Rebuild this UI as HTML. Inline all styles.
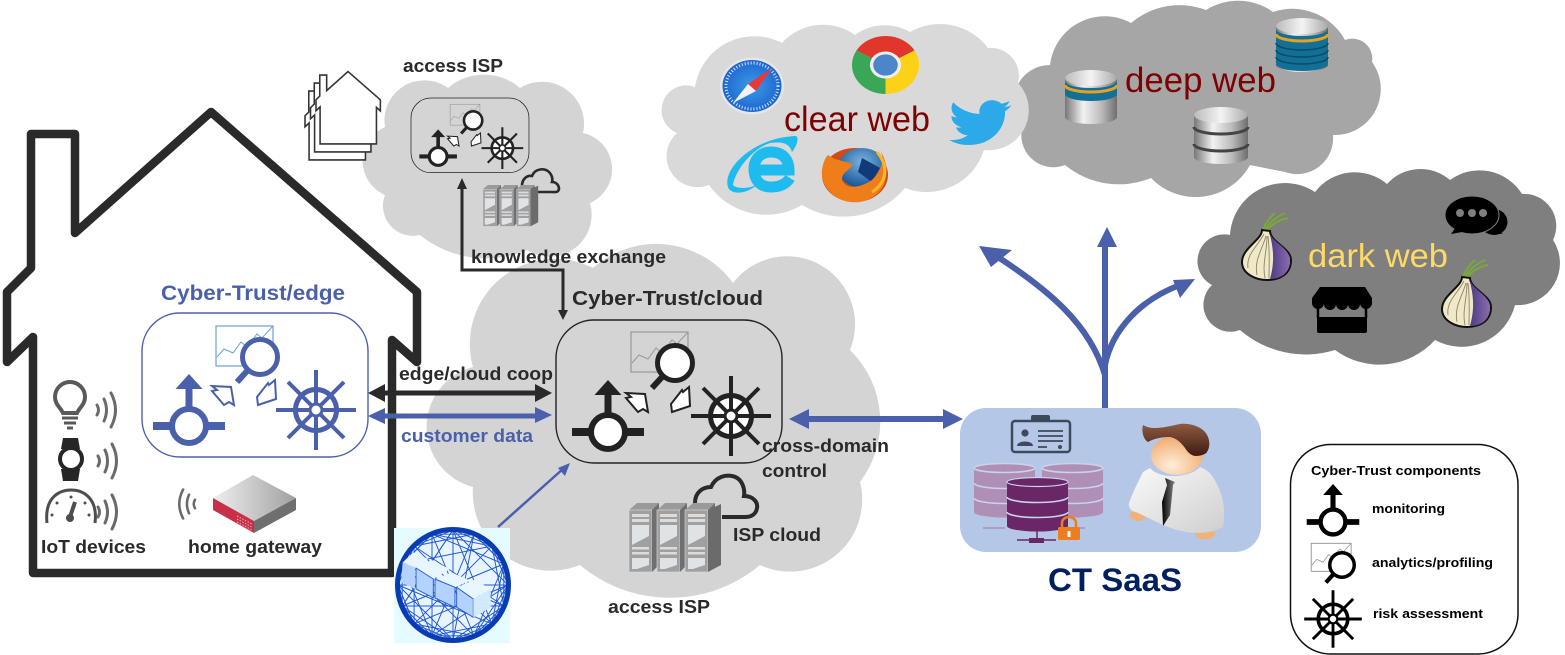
<!DOCTYPE html>
<html><head><meta charset="utf-8"><title>Cyber-Trust architecture</title>
<style>
html,body{margin:0;padding:0;background:#fff}
svg{display:block}
text{font-family:"Liberation Sans",sans-serif;font-weight:bold;fill:#2a2a2a}
text.n{font-weight:normal}
</style></head><body>
<svg width="1565" height="655" viewBox="0 0 1565 655" xmlns="http://www.w3.org/2000/svg">
<defs>
<linearGradient id="sil" x1="0" x2="1" y1="0" y2="0"><stop offset="0" stop-color="#777"/><stop offset=".35" stop-color="#f2f2f2"/><stop offset=".7" stop-color="#bbb"/><stop offset="1" stop-color="#6e6e6e"/></linearGradient>
<linearGradient id="silt" x1="0" x2="1" y1="0" y2="0"><stop offset="0" stop-color="#bbb"/><stop offset=".5" stop-color="#f4f4f4"/><stop offset="1" stop-color="#aaa"/></linearGradient>
<linearGradient id="gw" x1="0" x2="1" y1="0" y2="0"><stop offset="0" stop-color="#eee"/><stop offset=".5" stop-color="#c8c8c8"/><stop offset="1" stop-color="#a0a0a0"/></linearGradient>
<linearGradient id="coat" x1="0" x2="1" y1="0" y2="1"><stop offset="0" stop-color="#fafafa"/><stop offset="1" stop-color="#cfcfcf"/></linearGradient>
<linearGradient id="hair" x1="0" x2="0" y1="0" y2="1"><stop offset="0" stop-color="#8f5a42"/><stop offset="1" stop-color="#3e1c10"/></linearGradient>
<linearGradient id="tie" x1="0" x2="1" y1="0" y2="0"><stop offset="0" stop-color="#000"/><stop offset="1" stop-color="#888"/></linearGradient>
<radialGradient id="skin" cx=".4" cy=".75" r=".75"><stop offset="0" stop-color="#ffeeda"/><stop offset="1" stop-color="#eea868"/></radialGradient>
<radialGradient id="saf" cx=".5" cy=".5" r=".5"><stop offset="0" stop-color="#3a9ae8"/><stop offset="1" stop-color="#1f66d0"/></radialGradient>
<linearGradient id="pur" x1="0" x2="1" y1="0" y2="0"><stop offset="0" stop-color="#4b3a80"/><stop offset="1" stop-color="#8a6cb0"/></linearGradient>
<radialGradient id="glob" cx=".5" cy=".35" r=".6"><stop offset="0" stop-color="#7ab4e0"/><stop offset="1" stop-color="#1c5a9a"/></radialGradient>

<path id="house" d="M33,573 H392 V340 L417,362 V292 L211,112 L75,233 V134 H31 V268 L7,292 V362 L33,337 Z"/>

<g id="mon">
  <path d="M-36,0 H36" stroke="currentColor" stroke-width="8" fill="none"/>
  <path d="M0,-15 V-38" stroke="currentColor" stroke-width="7" fill="none"/>
  <path d="M-13.5,-37 L13.5,-37 L0,-52 Z" fill="currentColor"/>
  <circle r="17" fill="#fff" stroke="currentColor" stroke-width="6"/>
</g>
<g id="mag">
  <rect x="-44" y="-31" width="57" height="40" fill="var(--cf)" stroke="var(--ch)" stroke-width="1.2"/>
  <path d="M-43,0 L-36,-8 L-27,-4 L-19,-15 L-13,-10 L-3,-23 L2,-19 L13,-31" fill="none" stroke="var(--ch)" stroke-width="1"/>
  <path d="M-12,13 L-23,25" stroke="currentColor" stroke-width="6" fill="none"/>
  <circle r="17.5" fill="#fff" stroke="currentColor" stroke-width="5"/>
</g>
<g id="wheel">
  <circle r="20.5" fill="#fff" stroke="currentColor" stroke-width="5"/>
  <path d="M-40,0 H40 M0,-40 V40 M-28,-28 L28,28 M28,-28 L-28,28" stroke="currentColor" stroke-width="4" fill="none"/>
  <circle r="6" fill="#fff" stroke="currentColor" stroke-width="3"/>
</g>
<g id="arrs" fill="#fff" stroke="currentColor" stroke-width="2" stroke-linejoin="miter">
  <path d="M626,393 L645,394 L648,412 L643,409 L638,412 L626,398 L631,397 Z"/>
  <path d="M689,387 L690,406 L672,412 L671,404 L682,390 L683,392 Z"/>
</g>
<g id="ct">
  <rect x="556" y="320" width="226" height="143" rx="38" fill="none" stroke="currentColor" stroke-width="1.4"/>
  <use href="#mag" x="675" y="363"/>
  <use href="#mon" x="608" y="432"/>
  <use href="#wheel" x="731" y="416"/>
  <use href="#arrs"/>
</g>

<g id="rack">
  <path d="M0,7 L8,0 H30 L23,7 Z" fill="#9a9a9a"/>
  <rect x="0" y="7" width="23" height="62" fill="#a0a0a0" stroke="#dcdcdc" stroke-width=".6"/>
  <rect x="3" y="11" width="17" height="3" fill="#dcdcdc"/><rect x="3" y="16" width="17" height="3" fill="#dcdcdc"/>
  <path d="M3,22 H20 V33 L3,42 Z" fill="#dfe3e6"/>
  <rect x="3" y="44" width="17" height="2.5" fill="#dcdcdc"/><rect x="3" y="49" width="17" height="2.5" fill="#dcdcdc"/>
  <path d="M3,55 H20 V62 L8,66 H3 Z" fill="#dfe3e6"/>
  <path d="M23,7 L30,0 V62 L23,69 Z" fill="#6f6f6f"/>
</g>
<g id="servers">
  <use href="#rack" x="0"/><use href="#rack" x="28"/><use href="#rack" x="56"/>
  <path d="M79,7 L92,1 V62 L79,69 Z" fill="#6b6b6b"/>
</g>

<g id="w" fill="none" stroke="#6a6a6a" stroke-width="3" stroke-linecap="round">
  <path d="M0,-5 Q3,0 0,5"/><path d="M7,-11 Q12,0 7,11"/><path d="M14,-17 Q23,0 14,17"/>
</g>

<g id="onion">
  <path d="M22,3 C26,-4 34,-11 43,-15 M24,3 C29,-3 36,-8 46,-10 M21,3 C22,-3 27,-10 33,-15" fill="none" stroke="#7aa83a" stroke-width="2"/>
  <path d="M20,2 C20,12 0,20 0,34 C0,46 14,52 25,52 C38,52 49,46 49,32 C49,20 28,14 28,3 Z" fill="#efe9c8" stroke="#111" stroke-width="2"/>
  <path d="M27,3 C30,15 34,30 28,51 C38,51 48,46 48,32 C48,20 29,14 27,3 Z" fill="url(#pur)"/>
  <path d="M22,6 C16,18 4,26 6,40 M24,8 C20,22 12,32 15,47 M25,8 C25,24 20,36 23,50 M26,8 C28,24 27,38 27,50" fill="none" stroke="#8f8268" stroke-width=".9"/>
</g>
</defs>

<!-- clouds -->
<path fill="#a6a6a6" d="M1050,65 A55,55 0 0 1 1131,23 A75,75 0 0 1 1206,10 A60,60 0 0 1 1273,12 A60,60 0 0 1 1345,40 A20,20 0 0 1 1372,62 A46,46 0 0 1 1333,135 A36,36 0 0 1 1285,172 L1250,165 A62,62 0 0 1 1151,178 A85,85 0 0 1 1065,165 A32,32 0 0 1 1023,125 A36,36 0 0 1 1050,65 Z"/>
<path fill="#d9d9d9" d="M695,87 A60,60 0 0 1 782,43 A55,55 0 0 1 855,35 A50,50 0 0 1 910,32 A60,60 0 0 1 988,48 A28,28 0 0 1 1018,83 A40,40 0 0 1 984,150 A60,60 0 0 1 905,188 A80,80 0 0 1 802,205 A70,70 0 0 1 709,185 A31,31 0 0 1 677,133 A24.7,24.7 0 0 1 695,87 Z"/>
<path fill="#7f7f7f" d="M1212,285 A26.8,26.8 0 0 1 1230,235 A55,55 0 0 1 1315,192 A50,50 0 0 1 1387,184 A45,45 0 0 1 1450,180 A50,50 0 0 1 1522,194 A32,32 0 0 1 1553,240 A42,42 0 0 1 1515,305 A55,55 0 0 1 1435,340 A75,75 0 0 1 1335,350 A100,100 0 0 1 1240,330 A27,27 0 0 1 1212,285 Z"/>
<path fill="#d4d4d4" d="M473,367 A85,85 0 0 1 593,268 A95,95 0 0 1 733,283 A68,68 0 0 1 850,350 A100,100 0 0 1 860,482 A72,72 0 0 1 760,565 A140,140 0 0 1 580,565 A78,78 0 0 1 473,487 A62,62 0 0 1 473,367 Z"/>
<path fill="#d4d4d4" d="M385,127 A40,40 0 0 1 448,88 A55,55 0 0 1 520,88 A42,42 0 0 1 583,133 A37,37 0 0 1 590,203 A42,42 0 0 1 527,250 A105,105 0 0 1 420,235 A30,30 0 0 1 385,195 A37,37 0 0 1 385,127 Z"/>

<!-- mini houses -->
<g fill="#fff" stroke="#333" stroke-width="10" stroke-linejoin="miter">
  <use href="#house" transform="translate(303.9,70) scale(.157)"/>
  <use href="#house" transform="translate(309.4,62) scale(.157)"/>
  <use href="#house" transform="translate(314.9,54) scale(.157)"/>
</g>

<!-- main house -->
<use href="#house" fill="none" stroke="#2a2a2a" stroke-width="8.5" stroke-linejoin="round"/>

<!-- edge box -->
<g style="color:#4a60ab;--ch:#6aa0d8;--cf:#fff">
  <rect x="142" y="313" width="226" height="144" rx="38" fill="#fff" stroke="#4a60ab" stroke-width="1.4"/>
  <use href="#mag" x="260" y="357"/>
  <use href="#mon" x="189" y="426"/>
  <use href="#wheel" x="316" y="410"/>
  <use href="#arrs" transform="translate(-414,-7)"/>
</g>

<!-- cloud box -->
<g style="color:#222;--ch:#999;--cf:none"><use href="#ct"/></g>
<g style="color:#222;--ch:#999;--cf:none" transform="translate(411,98) scale(.522) translate(-556,-320)"><use href="#ct"/></g>

<!-- servers & cloud outlines -->
<path d="M695,503 C695,492 703,487 711,487 C716,476 726,475 732,476 C743,478 745,490 744,496 C754,496 758,503 757,508 C756,515 750,517 745,517 H722" fill="none" stroke="#2a2a2a" stroke-width="4"/>
<use href="#servers" transform="translate(629,503)"/>
<path d="M522,186 C522,179 527,175 532,176 C535,168 545,168 549,172 C552,175 553,179 552,182 C557,182 559,186 559,189 C558,193 555,192 552,192 H538" fill="none" stroke="#2a2a2a" stroke-width="2.6"/>
<use href="#servers" transform="translate(483,185) scale(.6)"/>

<!-- IoT icons -->
<g fill="none" stroke="#595959" stroke-width="4">
  <path d="M63,413 C60,407 55,404 55,397 A15,15 0 0 1 85,397 C85,404 80,407 77,413 Z"/>
  <path d="M62,418 H78 M64,423 H76 M67,428 H73" stroke-width="3"/>
</g>
<g fill="#262626">
  <path d="M63,438 H78 L80,449 H61 Z"/><path d="M61,469 H80 L78,481 H63 Z"/>
</g>
<circle cx="71" cy="459" r="11" fill="#fff" stroke="#262626" stroke-width="4"/>
<g fill="none" stroke="#4d4d4d">
  <path d="M47,523 C44,495 62,490 71,490 C85,490 98,500 95,523" stroke-width="3"/>
  <path d="M75,502 L70,517" stroke-width="4"/>
</g>
<circle cx="70" cy="518" r="4" fill="#4d4d4d"/>
<g fill="#4d4d4d"><circle cx="52" cy="515" r="1.5"/><circle cx="57" cy="503" r="1.5"/><circle cx="71" cy="497" r="1.5"/><circle cx="85" cy="503" r="1.5"/><circle cx="89" cy="515" r="1.5"/></g>
<use href="#w" x="97" y="410"/><use href="#w" x="98" y="461"/><use href="#w" x="98" y="512"/>
<use href="#w" transform="translate(195,504) scale(-.85,.85)"/>

<!-- gateway -->
<path d="M253,475 L296,498 L254,521 L213,498 Z" fill="url(#gw)"/>
<path d="M213,498 L254,521 V533 L213,510 Z" fill="#c8304a"/>
<path d="M254,521 L296,498 V510 L254,533 Z" fill="#6f6f6f"/>
<path d="M237,516 L252,524 M237,519 L252,527 M237,522 L252,530" stroke="#e8b0b8" stroke-width="1" stroke-dasharray="1.5 1.5"/>

<!-- mesh -->
<rect x="394" y="528" width="116" height="115" fill="#e6fbff"/>
<circle cx="453" cy="585" r="55" fill="#e8f4ff"/>
<g transform="translate(1,0)" fill="none" stroke="#2058d4" stroke-width=".95">
  <path d="M507,585 L473,635.8 L413.1,623.9 L397,585 L413.1,546.1 L473,534.2 L502.8,564 L490.9,623.9 L431,635.8 L401.2,564 L431,534.2 L490.9,546.1 L502.8,606 L452,640 L401.2,606 L452,530 Z"/>
  <path d="M507,585 L431,635.8 L431,534.2 L502.8,564 L473,635.8 L401.2,564 L490.9,546.1 L473,534.2 L452,640 L397,585 L490.9,623.9 L452,530 L401.2,606 L502.8,606 L413.1,546.1 L413.1,623.9 Z"/>
  <path d="M507,585 L490.9,623.9 L452,640 L413.1,623.9 L397,585 L413.1,546.1 L452,530 L490.9,546.1 Z M502.8,606 L473,635.8 L431,635.8 L401.2,606 L401.2,564 L431,534.2 L473,534.2 L502.8,564 Z"/>
  <path d="M507,585 L397,585 M502.8,606 L401.2,564 M490.9,623.9 L413.1,546.1 M473,635.8 L431,534.2 M452,640 L452,530 M431,635.8 L473,534.2 M413.1,623.9 L490.9,546.1 M401.2,606 L502.8,564"/>
</g>
<circle cx="453" cy="585" r="55.5" fill="none" stroke="#0a3bb0" stroke-width="5"/>
<g transform="translate(390,524) scale(.3333)" stroke-width="3" stroke-linejoin="round">
  <path d="M70,85 L115,105 L75,130 L38,115 Z" fill="#e8f6ff"/>
  <path d="M38,115 L75,130 V195 L33,175 Z" fill="#b4d2ff"/>
  <path d="M125,108 L180,135 L130,165 L78,132 Z" fill="#e8f6ff"/>
  <path d="M78,132 L130,165 V222 L78,195 Z" fill="#b4d2ff" stroke="#2a5fd0"/>
  <path d="M135,165 L185,145 L240,170 L195,190 Z" fill="#e8f6ff"/>
  <path d="M135,165 L195,190 V250 L135,222 Z" fill="#b4d2ff" stroke="#2a5fd0"/>
  <path d="M200,190 L255,167 L302,195 L250,225 Z" fill="#e8f6ff"/>
  <path d="M200,190 L250,225 V280 L200,250 Z" fill="#b4d2ff" stroke="#2a5fd0"/>
  <path d="M250,225 L302,195 V250 L250,280 Z" fill="#d2eaff"/>
</g>

<!-- connectors -->
<path d="M384,393 H537" stroke="#2a2a2a" stroke-width="5"/>
<path d="M368,393 L385,384 V402 Z M552,393 L535,384 V402 Z" fill="#2a2a2a"/>
<path d="M384,416 H537" stroke="#4a60ab" stroke-width="5"/>
<path d="M368,416 L385,408 V424 Z M552,415 L535,407 V423 Z" fill="#4a60ab"/>
<path d="M806,419 H945" stroke="#4a60ab" stroke-width="6"/>
<path d="M789,419 L809,409 V429 Z M963,419 L943,409 V429 Z" fill="#4a60ab"/>
<path d="M462,186 V270 H563 V312" fill="none" stroke="#2a2a2a" stroke-width="3"/>
<path d="M462,178 L457,189 H467 Z M563,320 L558,310 H568 Z" fill="#2a2a2a"/>
<path d="M498,527 L564,468" stroke="#4a60ab" stroke-width="2.5"/>
<path d="M570,463 L558,468 L565,476 Z" fill="#4a60ab"/>

<!-- blue tree -->
<path d="M1105,408 V245" stroke="#4a60ab" stroke-width="6" fill="none"/>
<path d="M1105,375 C1090,325 1050,290 990,252" stroke="#4a60ab" stroke-width="6" fill="none"/>
<path d="M1105,365 C1112,330 1140,300 1180,285" stroke="#4a60ab" stroke-width="6" fill="none"/>
<path d="M1107,227 L1097,247 H1117 Z M979,246 L1012,250 L991,267 Z M1195,279 L1173,280 L1180,298 Z" fill="#4a60ab"/>

<!-- clear web icons -->
<ellipse cx="752" cy="86" rx="32" ry="28.5" fill="#e6e6e6"/>
<ellipse cx="752" cy="86" rx="29.5" ry="26" fill="url(#saf)"/>
<ellipse cx="752" cy="86" rx="26" ry="23" fill="none" stroke="#cfe6fa" stroke-width="3" stroke-dasharray="1 2"/>
<path d="M772,68 L748,84 L756,91 Z" fill="#e8383a"/>
<path d="M733,103 L748,84 L756,91 Z" fill="#f2f2f2"/>
<g transform="translate(885.5,65) scale(1.117,.967)">
  <path d="M0,0 L-26,-15 A30,30 0 0 1 26,-15 Z" fill="#e0362c"/>
  <path d="M0,0 L26,-15 A30,30 0 0 1 0,30 Z" fill="#fcd116"/>
  <path d="M0,0 L0,30 A30,30 0 0 1 -26,-15 Z" fill="#3aa757"/>
  <circle r="14" fill="#eee"/><circle r="11" fill="#4a86c8"/>
</g>
<path transform="translate(949,95) scale(2.6,2.3)" fill="#2ca9e8" d="M23.953 4.57a10 10 0 01-2.825.775 4.958 4.958 0 002.163-2.723c-.951.555-2.005.959-3.127 1.184a4.92 4.92 0 00-8.384 4.482C7.69 8.095 4.067 6.13 1.64 3.162a4.822 4.822 0 00-.666 2.475c0 1.71.87 3.213 2.188 4.096a4.904 4.904 0 01-2.228-.616v.06a4.923 4.923 0 003.946 4.827 4.996 4.996 0 01-2.212.085 4.936 4.936 0 004.604 3.417 9.867 9.867 0 01-6.102 2.105c-.39 0-.779-.023-1.17-.067a13.995 13.995 0 007.557 2.209c9.053 0 13.998-7.496 13.998-13.985 0-.21 0-.42-.015-.63A9.935 9.935 0 0024 4.59z"/>
<path d="M790,178 C785,186 776,187 771,187 C757,187 754,176 754,169 C754,158 762,152 771,152 C784,152 789,161 789,170 H752" fill="none" stroke="#1ebbee" stroke-width="11"/>
<path d="M728,187 C722,170 752,138 795,136 C800,136 797,146 792,152 C790,145 785,141 770,143 C750,150 735,172 733,185 C738,190 752,188 758,184 C745,196 730,194 728,187 Z" fill="#1ebbee"/>
<ellipse cx="855" cy="175" rx="33" ry="27" fill="#d04a18"/>
<ellipse cx="862" cy="168" rx="24" ry="20" fill="url(#glob)"/>
<path d="M862,158 L880,168 L872,182 L858,172 Z" fill="#123a78"/>
<path d="M828,155 C835,160 840,160 853,164 C848,172 842,172 842,180 C846,190 860,188 872,180 C880,172 886,160 880,150 C890,165 892,195 860,202 C835,205 820,185 822,170 C823,163 825,158 828,155 Z" fill="#ef7d1a"/>
<path d="M877,152 C888,165 888,182 872,192" fill="none" stroke="#f5b92a" stroke-width="3"/>

<!-- deep web cylinders -->
<g transform="translate(1276,18)">
  <path d="M0,7 V47 A26,7 0 0 0 52,47 V7 Z" fill="url(#sil)"/>
  <path d="M0,11 V46 A26,7 0 0 0 52,46 V11 A26,7 0 0 1 0,11 Z" fill="#127096"/>
  <path d="M0,16 A26,7 0 0 0 52,16" fill="none" stroke="#e8a020" stroke-width="3"/>
  <path d="M0,25 A26,7 0 0 0 52,25 M0,32 A26,7 0 0 0 52,32 M0,39 A26,7 0 0 0 52,39" fill="none" stroke="#0c4a66" stroke-width="1.5"/>
  <ellipse cx="26" cy="8" rx="26" ry="8" fill="url(#silt)"/>
</g>
<g transform="translate(1065,70)">
  <path d="M0,7 V47 A26,7 0 0 0 52,47 V7 Z" fill="url(#sil)"/>
  <path d="M0,11 V24 A26,7 0 0 0 52,24 V11 A26,7 0 0 1 0,11 Z" fill="#127096"/>
  <path d="M0,15 A26,7 0 0 0 52,15" fill="none" stroke="#e8a020" stroke-width="3"/>
  <ellipse cx="26" cy="8" rx="26" ry="8" fill="url(#silt)"/>
</g>
<g transform="translate(1194,107)">
  <path d="M0,7 V50 A27,7 0 0 0 54,50 V7 Z" fill="url(#sil)"/>
  <path d="M0,20 A27,7 0 0 0 54,20 M0,37 A27,7 0 0 0 54,37" fill="none" stroke="#444" stroke-width="3"/>
  <ellipse cx="27" cy="8" rx="27" ry="8" fill="url(#silt)"/>
</g>

<!-- dark web icons -->
<use href="#onion" transform="translate(1242,228)"/>
<use href="#onion" transform="translate(1442,275)"/>
<ellipse cx="1494" cy="222" rx="13.5" ry="13" fill="#000"/>
<path d="M1495,230 L1503,234 L1485,233 Z" fill="#000"/>
<ellipse cx="1472" cy="215" rx="27" ry="19" fill="#000" stroke="#7f7f7f" stroke-width="1"/>
<path d="M1456,227 L1451,234 L1468,231 Z" fill="#000"/>
<circle cx="1460" cy="213" r="4" fill="#7f7f7f"/><circle cx="1472" cy="213" r="4" fill="#7f7f7f"/><circle cx="1483" cy="213" r="4" fill="#7f7f7f"/>
<path d="M1320,287 H1365 L1372,298 V303 H1312 V298 Z" fill="#000"/>
<circle cx="1318" cy="303" r="6" fill="#000"/><circle cx="1330" cy="304" r="6" fill="#000"/><circle cx="1342" cy="304" r="6" fill="#000"/><circle cx="1354" cy="304" r="6" fill="#000"/><circle cx="1366" cy="303" r="6" fill="#000"/>
<path d="M1317,317 H1367 V331 A2,2 0 0 1 1365,333 H1319 A2,2 0 0 1 1317,331 Z" fill="#000"/>
<path d="M1318,306 V318 M1366,306 V318" stroke="#000" stroke-width="2.5"/>

<!-- SaaS -->
<rect x="960" y="408" width="301" height="144" rx="26" fill="#b4c7e7"/>
<rect x="1012" y="421" width="58" height="31" rx="3" fill="none" stroke="#3d4a5c" stroke-width="2.5"/>
<rect x="1031" y="415" width="19" height="7" rx="2" fill="#3d4a5c"/>
<circle cx="1025" cy="433" r="3.6" fill="#3d4a5c"/>
<path d="M1017,446 C1017,440 1033,440 1033,446 Z" fill="#3d4a5c"/>
<path d="M1038,431 H1063 M1038,436 H1063 M1038,441 H1063 M1038,447 H1047" stroke="#3d4a5c" stroke-width="1.8"/>
<circle cx="1060" cy="447" r="2" fill="#3d4a5c"/>
<g fill="#b08fb5">
  <path d="M974,469 V512 A30.5,5.5 0 0 0 1035,512 V469 A30.5,5.5 0 0 0 974,469 Z"/>
  <path d="M1042,469 V512 A30.5,5.5 0 0 0 1103,512 V469 A30.5,5.5 0 0 0 1042,469 Z"/>
</g>
<g fill="none" stroke="#c9d3ea" stroke-width="1.6">
  <path d="M974,483 A30.5,5.5 0 0 0 1035,483 M974,498 A30.5,5.5 0 0 0 1035,498 M1042,483 A30.5,5.5 0 0 0 1103,483 M1042,498 A30.5,5.5 0 0 0 1103,498"/>
  <ellipse cx="1004.5" cy="468" rx="30.5" ry="4.5"/><ellipse cx="1072.5" cy="468" rx="30.5" ry="4.5"/>
</g>
<path d="M983,528 H1005 M1085,528 H1063" stroke="#b08fb5" stroke-width="1.5"/>
<path d="M1007,483 V526 A30.5,5.5 0 0 0 1068,526 V483 A30.5,5.5 0 0 0 1007,483 Z" fill="#6a2667"/>
<path d="M1007,497 A30.5,5.5 0 0 0 1068,497 M1007,512 A30.5,5.5 0 0 0 1068,512" fill="none" stroke="#c9d3ea" stroke-width="1.6"/>
<ellipse cx="1037.5" cy="482" rx="30.5" ry="4.5" fill="#6a2667" stroke="#c9d3ea" stroke-width="1.2"/>
<path d="M1037,531 V540 M1017,540 H1056" stroke="#6a2667" stroke-width="1.5"/>
<rect x="1029" y="538" width="15" height="5" fill="#6a2667"/>
<path d="M1062,528 V523 A7,6 0 0 1 1076,523 V528" fill="none" stroke="#ed7d20" stroke-width="2.5"/>
<rect x="1058" y="527" width="22" height="13" rx="1.5" fill="#ed7d20"/>
<rect x="1067.5" y="531" width="3" height="6" fill="#fff"/>
<!-- person -->
<ellipse cx="1138" cy="515" rx="8" ry="6" fill="#eeb27a"/>
<ellipse cx="1205" cy="534" rx="10" ry="5.5" fill="#eeb27a"/>
<path d="M1143,472 C1138,482 1132,494 1129,503 C1128,508 1132,512 1136,512 L1163,525 C1175,530 1187,533 1197,533 C1207,533 1216,531 1223,527 C1226,510 1224,492 1210,473 C1206,470 1203,468 1200,467 C1190,478 1160,480 1150,468 Z" fill="url(#coat)"/>
<path d="M1165,478 L1175,482 L1173,485 L1170,515 L1163,526 L1162,502 L1167,485 Z" fill="url(#tie)"/>
<ellipse cx="1177" cy="455" rx="26" ry="20" fill="url(#skin)"/>
<path d="M1143,425 C1141,432 1144,440 1148,442 C1155,438 1163,437 1170,437 C1177,438 1182,444 1185,448 C1188,453 1192,456 1196,456 C1201,456 1206,454 1207,452 C1211,446 1210,436 1203,430 C1197,425 1187,423 1180,424 C1170,426 1163,428 1155,428 C1150,428 1147,427 1143,425 Z" fill="url(#hair)"/>

<!-- legend -->
<rect x="1290.5" y="444.5" width="227.5" height="209.5" rx="40" fill="#fff" stroke="#111" stroke-width="1.5"/>
<g style="color:#000;--ch:#888;--cf:#fff">
  <use href="#mon" transform="translate(1333,522) scale(.73)"/>
  <use href="#mag" transform="translate(1342,565) scale(.7)"/>
  <use href="#wheel" transform="translate(1333,619) scale(.72)"/>
</g>

<!-- text -->
<text x="161" y="300" font-size="21" textLength="184" lengthAdjust="spacingAndGlyphs" style="fill:#4a60ab">Cyber-Trust/edge</text>
<text x="572" y="305" font-size="20" textLength="191" lengthAdjust="spacingAndGlyphs">Cyber-Trust/cloud</text>
<text x="471" y="263" font-size="18" textLength="195" lengthAdjust="spacingAndGlyphs">knowledge exchange</text>
<text x="399" y="380" font-size="18" textLength="154" lengthAdjust="spacingAndGlyphs">edge/cloud coop</text>
<text x="401" y="442" font-size="18" textLength="132" lengthAdjust="spacingAndGlyphs" style="fill:#4a60ab">customer data</text>
<text x="762" y="452" font-size="18" textLength="127" lengthAdjust="spacingAndGlyphs">cross-domain</text>
<text x="762" y="477" font-size="18" textLength="65" lengthAdjust="spacingAndGlyphs">control</text>
<text x="733" y="541" font-size="18" textLength="88" lengthAdjust="spacingAndGlyphs">ISP cloud</text>
<text x="608" y="613" font-size="18" textLength="102" lengthAdjust="spacingAndGlyphs">access ISP</text>
<text x="403" y="72" font-size="18" textLength="100" lengthAdjust="spacingAndGlyphs">access ISP</text>
<text x="41" y="553" font-size="18" textLength="105" lengthAdjust="spacingAndGlyphs">IoT devices</text>
<text x="188" y="553" font-size="18" textLength="134" lengthAdjust="spacingAndGlyphs">home gateway</text>
<text x="1048" y="591" font-size="32" textLength="134" lengthAdjust="spacingAndGlyphs" style="fill:#002060">CT SaaS</text>
<text class="n" x="784" y="131" font-size="35" textLength="146" lengthAdjust="spacingAndGlyphs" style="fill:#7f0000">clear web</text>
<text class="n" x="1125" y="92" font-size="35" textLength="151" lengthAdjust="spacingAndGlyphs" style="fill:#7f0000">deep web</text>
<text class="n" x="1308" y="267" font-size="33" textLength="140" lengthAdjust="spacingAndGlyphs" style="fill:#ffd966">dark web</text>
<text x="1311" y="475" font-size="13" textLength="170" lengthAdjust="spacingAndGlyphs" style="fill:#000">Cyber-Trust components</text>
<text x="1372" y="513" font-size="13" textLength="73" lengthAdjust="spacingAndGlyphs" style="fill:#000">monitoring</text>
<text x="1372" y="567" font-size="13" textLength="121" lengthAdjust="spacingAndGlyphs" style="fill:#000">analytics/profiling</text>
<text x="1373" y="618" font-size="13" textLength="110" lengthAdjust="spacingAndGlyphs" style="fill:#000">risk assessment</text>
</svg>
</body></html>
